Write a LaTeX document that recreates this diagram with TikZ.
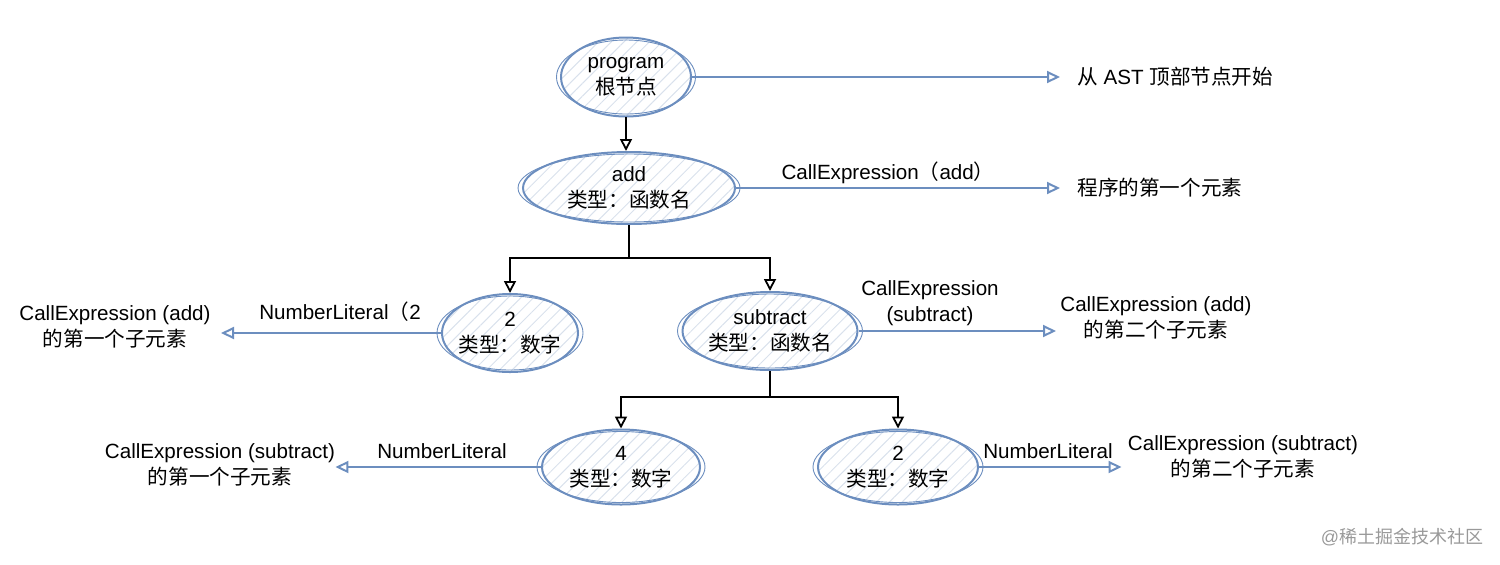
\documentclass[tikz,border=0pt]{standalone}
\usepackage{fontspec}
\setmainfont{Liberation Sans}
\newfontfamily\cjk{Noto Sans CJK SC}
\usetikzlibrary{shapes.geometric,arrows.meta,patterns.meta,calc}
\definecolor{sk}{HTML}{6C8EBF}
\definecolor{hach}{HTML}{D9E1EC}
\newcommand{\zh}[1]{{\cjk #1}}
\begin{document}
\begin{tikzpicture}[x=0.5pt,y=-0.5pt,
  every node/.style={font=\fontsize{10.3}{13}\selectfont, inner sep=0pt},
  bub/.style={ellipse, draw=sk, line width=1pt,
    pattern={Lines[angle=45,distance=4.5pt,line width=0.5pt]}, pattern color=hach},
  treeline/.style={draw=black, line width=0.9pt},
  tree/.style={treeline, -{Triangle[open,length=6pt,width=6pt]}},
  flow/.style={draw=sk, line width=1pt, -{Triangle[open,length=6.5pt,width=6pt]}}
]
\useasboundingbox (0,0) rectangle (1500,564);

% bubbles
\node[bub, minimum width=65pt, minimum height=39.5pt] (prog) at (626,77) {};
\node[bub, minimum width=106pt, minimum height=36pt] (add) at (629,188) {};
\node[bub, minimum width=68pt, minimum height=39pt] (n2) at (510,333) {};
\node[bub, minimum width=87.5pt, minimum height=39pt] (sub) at (770,331) {};
\node[bub, minimum width=79pt, minimum height=37.5pt] (n4) at (621,467) {};
\node[bub, minimum width=80pt, minimum height=37.5pt] (n5) at (898,467) {};

\foreach \bb in {prog,add,n2,sub,n4,n5}{
  \path let \p0=(\bb.center), \p1=(\bb.east), \p2=(\bb.north) in
    [draw=sk, line width=0.45pt] (\p0) ellipse [x radius={\x1-\x0+2pt}, y radius={\y2-\y0-1.5pt}];
}

% bubble texts
\node[align=center] (progt) at (prog) {program\\\zh{根节点}};
\node[align=center] (addt) at (add) {add\\\zh{类型：函数名}};
\node[align=center] (n2t) at (n2) {2\\\zh{类型：数字}};
\node[align=center] (subt) at (sub) {subtract\\\zh{类型：函数名}};
\node[align=center] (n4t) at (n4) {4\\\zh{类型：数字}};
\node[align=center] (n5t) at (n5) {2\\\zh{类型：数字}};

% tree connectors
\coordinate (j1) at (629,258);
\coordinate (j2) at (770,397);
\draw[tree] (prog.south) -- (prog.south |- add.north);
\draw[treeline] (add.south) -- (j1);
\draw[tree] (j1) -| (n2.north);
\draw[tree] (j1) -| (sub.north);
\draw[treeline] (sub.south) -- (j2);
\draw[tree] (j2) -| (n4.north);
\draw[tree] (j2) -| (n5.north);

% labels on flows
\node (l1) at (888,173) {CallExpression\zh{（}add\zh{）}};
\node (l2) at (340,312) {NumberLiteral\zh{（}2};
\node[align=center] (l3) at (930,303) {CallExpression\\(subtract)};
\node (l4) at (442,451) {NumberLiteral};
\node (l5) at (1048,451) {NumberLiteral};

% target texts
\node[anchor=west] (t1) at (1077,77) {\zh{从} AST \zh{顶部节点开始}};
\node[anchor=west] (t2) at (1077,188) {\zh{程序的第一个元素}};
\node[align=center] (t3) at (115,327) {CallExpression (add)\\\zh{的第一个子元素}};
\node[align=center] (t4) at (1156,318) {CallExpression (add)\\\zh{的第二个子元素}};
\node[align=center] (t5) at (220,465) {CallExpression (subtract)\\\zh{的第一个子元素}};
\node[align=center] (t6) at (1243,457) {CallExpression (subtract)\\\zh{的第二个子元素}};

% flows
\draw[flow, shorten >=8.5pt] (prog.east) -- (prog.east -| t1.west);
\draw[flow, shorten >=8.5pt] (add.east) -- (add.east -| t2.west);
\draw[flow, shorten >=5pt] (n2.west) -- (n2.west -| t3.east);
\draw[flow, shorten >=2pt] (sub.east) -- (sub.east -| t4.west);
\draw[flow, shorten >=0pt] (n4.west) -- (n4.west -| t5.east);
\draw[flow, shorten >=3pt] (n5.east) -- (n5.east -| t6.west);

% watermark
\node[text=black!40, font=\fontsize{9}{11}\selectfont] (wm) at (1402,537) {@\zh{稀土掘金技术社区}};
\end{tikzpicture}
\end{document}
